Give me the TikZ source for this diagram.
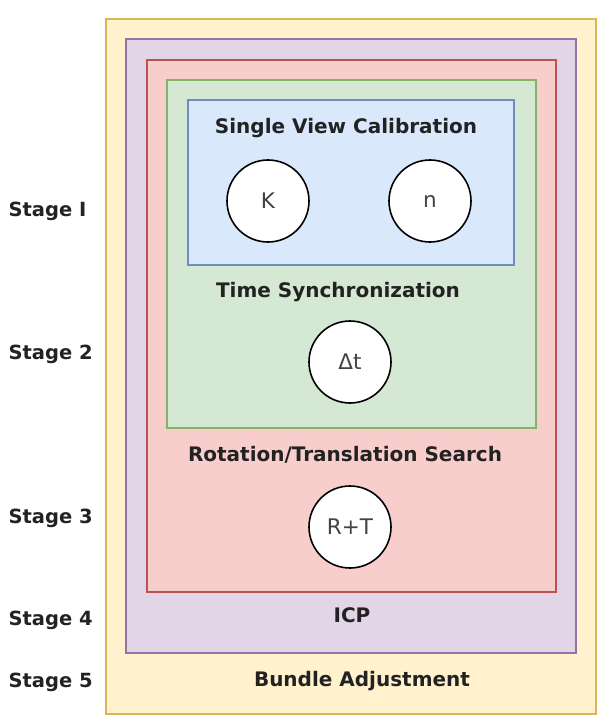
\documentclass[tikz,border=0pt]{standalone}
\usepackage{fontspec}
\setmainfont{DejaVu Sans}
\definecolor{bundlefill}{HTML}{FFF2CC}
\definecolor{bundleline}{HTML}{D6B656}
\definecolor{icpfill}{HTML}{E1D5E7}
\definecolor{icpline}{HTML}{9673A6}
\definecolor{searchfill}{HTML}{F8CECC}
\definecolor{searchline}{HTML}{B85450}
\definecolor{syncfill}{HTML}{D5E8D4}
\definecolor{syncline}{HTML}{82B366}
\definecolor{calibfill}{HTML}{DAE8FC}
\definecolor{calibline}{HTML}{6C8EBF}
\definecolor{textgray}{HTML}{222222}

\begin{document}
\begin{tikzpicture}[x=1pt, y=-1pt,
	stagebox/.style = {draw, line width=1.8pt, anchor=north west, inner sep=0pt},
	param/.style = {circle, draw, fill=white, line width=1.6pt, minimum size=82pt, inner sep=0pt, font=\fontsize{21.5}{24}\selectfont, text=textgray!85!white},
	title/.style = {font=\fontsize{20}{23}\selectfont\bfseries, text=textgray},
	stagelabel/.style = {anchor=west, font=\fontsize{19.5}{22}\selectfont\bfseries, text=textgray}]
		\useasboundingbox (0,0) rectangle (607,719);
		\node[stagebox, fill=bundlefill, draw=bundleline, minimum width=490pt, minimum height=695pt] (bundle) at (105,18) {};
		\node[stagebox, fill=icpfill, draw=icpline, minimum width=450pt, minimum height=614pt] (icp) at (125,38) {};
		\node[stagebox, fill=searchfill, draw=searchline, minimum width=409pt, minimum height=532pt] (search) at (146,59) {};
		\node[stagebox, fill=syncfill, draw=syncline, minimum width=369pt, minimum height=348pt] (sync) at (166,79) {};
		\node[stagebox, fill=calibfill, draw=calibline, minimum width=326pt, minimum height=165pt] (calib) at (187,99) {};
		\node[title] (calibtitle) at (346,128) {Single View Calibration};
		\node[title] (synctitle) at (338,292) {Time Synchronization};
		\node[title] (searchtitle) at (345,455) {Rotation/Translation Search};
		\node[title] (icptitle) at (352,615) {ICP};
		\node[title] (bundletitle) at (362,681) {Bundle Adjustment};
		\node[param] (K) at (268,201) {K};
		\node[param] (n) at (430,201) {n};
		\node[param] (dt) at (350,362) {Δt};
		\node[param] (RT) at (350,527) {R+T};
		\node[stagelabel] (stage1) at (5,211) {Stage I};
		\node[stagelabel] (stage2) at (5,354) {Stage 2};
		\node[stagelabel] (stage3) at (5,518) {Stage 3};
		\node[stagelabel] (stage4) at (5,620) {Stage 4};
		\node[stagelabel] (stage5) at (5,682) {Stage 5};
	\end{tikzpicture}
\end{document}
